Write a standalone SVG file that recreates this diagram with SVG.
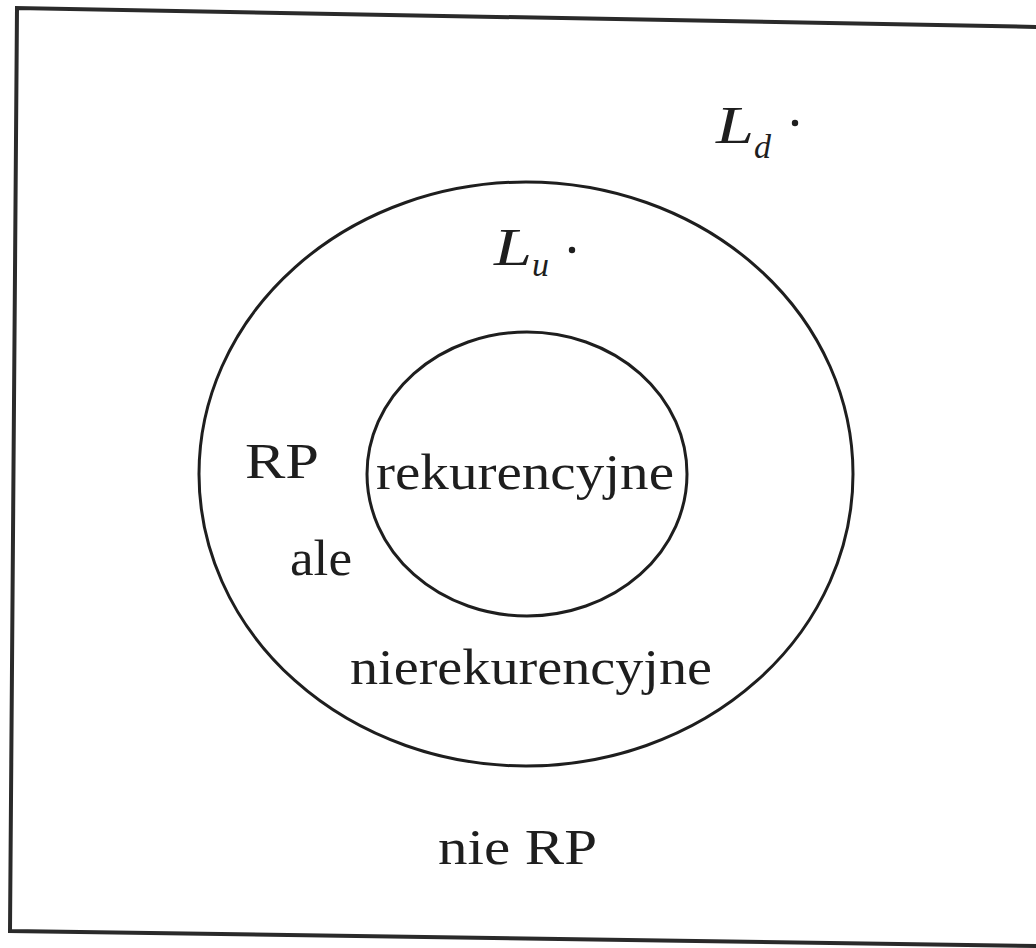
<svg xmlns="http://www.w3.org/2000/svg" width="1036" height="948" viewBox="0 0 1036 948">
<style>
.frame{fill:none;stroke:#2a2a2a;stroke-width:4}
.set{fill:none;stroke:#1e1e1e;stroke-width:3}
.t{font-family:"Liberation Serif","Times New Roman",serif;font-size:51px;fill:#1e1e1e}
.m{font-family:"Liberation Serif","Times New Roman",serif;font-style:italic;fill:#1e1e1e}
</style>
<rect width="1036" height="948" fill="#ffffff"/>
<g id="frame">
<path class="frame" d="M1040,27 L17,8 L10,931 L1040,946"/>
</g>
<g id="outer-set">
<ellipse class="set" cx="526" cy="474" rx="327" ry="292"/>
</g>
<g id="inner-set">
<ellipse class="set" cx="527" cy="474" rx="160" ry="142"/>
</g>
<g id="labels">
<text class="t" x="376" y="489" textLength="298" lengthAdjust="spacingAndGlyphs">rekurencyjne</text>
<text class="t" x="245" y="478" textLength="74" lengthAdjust="spacingAndGlyphs">RP</text>
<text class="t" x="290" y="575" textLength="62" lengthAdjust="spacingAndGlyphs">ale</text>
<text class="t" x="350" y="684" textLength="362" lengthAdjust="spacingAndGlyphs">nierekurencyjne</text>
<text class="t" x="438" y="864" textLength="159" lengthAdjust="spacingAndGlyphs">nie RP</text>
</g>
<g id="Ld">
<text class="m" x="716" y="143" font-size="52" textLength="38" lengthAdjust="spacingAndGlyphs">L</text>
<text class="m" x="754" y="158" font-size="34">d</text>
<circle cx="795" cy="123" r="3.2" fill="#1e1e1e"/>
</g>
<g id="Lu">
<text class="m" x="494" y="265" font-size="52" textLength="38" lengthAdjust="spacingAndGlyphs">L</text>
<text class="m" x="532" y="276" font-size="34">u</text>
<circle cx="572" cy="250" r="3.2" fill="#1e1e1e"/>
</g>
</svg>
